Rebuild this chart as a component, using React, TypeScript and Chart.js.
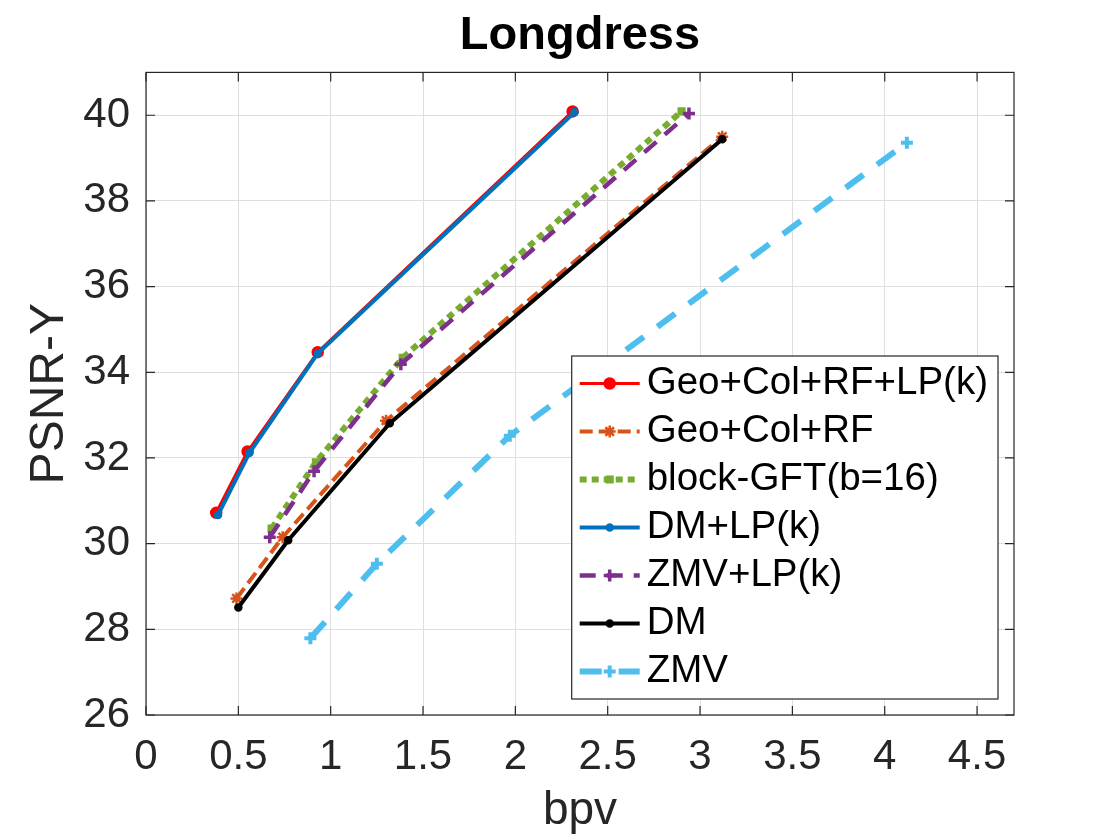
import React, { useEffect, useRef } from 'react';
import { Chart, registerables } from 'chart.js';
import { drawPoint } from 'chart.js/helpers';

Chart.register(...registerables);

const FONT = '"Liberation Sans", Arial, Helvetica, sans-serif';

// series values (bpv, PSNR-Y)
const seriesNames = ['Geo+Col+RF+LP(k)', 'Geo+Col+RF', 'block-GFT(b=16)', 'DM+LP(k)', 'ZMV+LP(k)', 'DM', 'ZMV'];

const geoColRfLpX = [0.38, 0.55, 0.93, 2.31];
const geoColRfLpY = [30.72, 32.15, 34.47, 40.09];
const geoColRfX = [0.49, 0.74, 1.30, 3.12];
const geoColRfY = [28.72, 30.15, 32.87, 39.50];
const blockGftX = [0.68, 0.92, 1.39, 2.90];
const blockGftY = [30.35, 31.90, 34.34, 40.09];
const dmLpX = [0.39, 0.56, 0.93, 2.32];
const dmLpY = [30.67, 32.12, 34.44, 40.07];
const zmvLpX = [0.67, 0.91, 1.38, 2.94];
const zmvLpY = [30.15, 31.69, 34.19, 40.04];
const dmX = [0.50, 0.77, 1.32, 3.12];
const dmY = [28.51, 30.08, 32.81, 39.44];
const zmvX = [0.89, 1.25, 1.97, 4.12];
const zmvY = [27.79, 29.53, 32.52, 39.36];

const xTicks = [0, 0.5, 1, 1.5, 2, 2.5, 3, 3.5, 4, 4.5];
const yTicks = [26, 28, 30, 32, 34, 36, 38, 40];

const seriesX = [geoColRfLpX, geoColRfX, blockGftX, dmLpX, zmvLpX, dmX, zmvX];
const seriesY = [geoColRfLpY, geoColRfY, blockGftY, dmLpY, zmvLpY, dmY, zmvY];

// MATLAB-like line styles
const styles = [
  { color: '#ff0000', width: 3, dash: [], point: 'circle', r: 5, pw: 2.5 },
  { color: '#d95319', width: 4, dash: [13, 6], point: 'star', r: 6, pw: 2.5 },
  { color: '#77ac30', width: 6, dash: [7, 5], point: 'rect', r: 4, pw: 2.5 },
  { color: '#0072bd', width: 4, dash: [], point: 'circle', r: 3, pw: 2.5 },
  { color: '#7e2f8e', width: 4.5, dash: [16, 11], point: 'cross', r: 6, pw: 3.5 },
  { color: '#000000', width: 4, dash: [], point: 'circle', r: 3, pw: 2.5 },
  { color: '#4dbeee', width: 6, dash: [22, 17], point: 'cross', r: 6, pw: 4 },
];

const framePlugin = {
  id: 'frame',
  afterDatasetsDraw(chart: any) {
    const { ctx, chartArea: a, scales } = chart;
    ctx.save();
    ctx.strokeStyle = '#262626';
    ctx.lineWidth = 1.2;
    ctx.strokeRect(a.left, a.top, a.right - a.left, a.bottom - a.top);
    const len = 9;
    ctx.beginPath();
    scales.x.ticks.forEach((t: any) => {
      const px = scales.x.getPixelForValue(t.value);
      ctx.moveTo(px, a.bottom); ctx.lineTo(px, a.bottom - len);
      ctx.moveTo(px, a.top); ctx.lineTo(px, a.top + len);
    });
    scales.y.ticks.forEach((t: any) => {
      const py = scales.y.getPixelForValue(t.value);
      ctx.moveTo(a.left, py); ctx.lineTo(a.left + len, py);
      ctx.moveTo(a.right, py); ctx.lineTo(a.right - len, py);
    });
    ctx.stroke();
    ctx.restore();
  },
};

const legendPlugin = {
  id: 'insetLegend',
  afterDraw(chart: any) {
    const { ctx, chartArea: a } = chart;
    const ds = chart.data.datasets;
    ctx.save();
    ctx.font = `38.5px ${FONT}`;
    const textW = Math.max(...ds.map((d: any) => ctx.measureText(d.label).width));
    const rowH = 48, sample = 60, padL = 8, gap = 7, padR = 10, padV = 3.5;
    const w = padL + sample + gap + textW + padR;
    const h = ds.length * rowH + 2 * padV;
    const left = a.right - 16 - w;
    const top = a.bottom - 16 - h;
    ctx.fillStyle = '#ffffff';
    ctx.fillRect(left, top, w, h);
    ctx.strokeStyle = '#262626';
    ctx.lineWidth = 1.2;
    ctx.strokeRect(left, top, w, h);
    ds.forEach((d: any, i: number) => {
      const cy = top + padV + rowH * (i + 0.5);
      const x0 = left + padL;
      const x1 = x0 + sample;
      ctx.save();
      ctx.strokeStyle = d.borderColor;
      ctx.lineWidth = d.borderWidth;
      ctx.setLineDash(d.borderDash || []);
      ctx.beginPath();
      ctx.moveTo(x0, cy);
      ctx.lineTo(x1, cy);
      ctx.stroke();
      ctx.setLineDash([]);
      ctx.fillStyle = d.pointBackgroundColor;
      ctx.strokeStyle = d.pointBorderColor;
      ctx.lineWidth = d.pointBorderWidth;
      drawPoint(ctx, { pointStyle: d.pointStyle, radius: d.pointRadius, rotation: 0, borderWidth: d.pointBorderWidth }, (x0 + x1) / 2, cy);
      ctx.restore();
      ctx.fillStyle = '#000000';
      ctx.textAlign = 'left';
      ctx.textBaseline = 'middle';
      ctx.fillText(d.label, x1 + gap, cy);
    });
    ctx.restore();
  },
};

function PsnrChart() {
  const canvasRef = useRef<HTMLCanvasElement | null>(null);
  useEffect(() => {
    if (!canvasRef.current) return;
    const datasets = seriesNames.map((name, i) => {
      const s = styles[i];
      return {
        label: name,
        data: seriesX[i].map((x, j) => ({ x, y: seriesY[i][j] })),
        showLine: true,
        borderColor: s.color,
        backgroundColor: s.color,
        borderWidth: s.width,
        borderDash: s.dash,
        borderJoinStyle: 'round' as const,
        pointStyle: s.point,
        pointRadius: s.r,
        pointBackgroundColor: s.color,
        pointBorderColor: s.color,
        pointBorderWidth: s.pw,
        order: seriesNames.length - i,
      };
    });
    const c = new Chart(canvasRef.current, {
      type: 'scatter',
      data: { datasets },
      options: {
        responsive: false,
        animation: false,
        events: [],
        layout: { padding: { left: 0, right: 106, top: 0, bottom: 0 } },
        plugins: {
          legend: { display: false },
          tooltip: { enabled: false },
          title: {
            display: true,
            text: 'Longdress',
            fullSize: false,
            color: '#000000',
            font: { family: FONT, size: 47, weight: 'bold' },
            padding: { top: 8, bottom: 8 },
          },
        },
        scales: {
          x: {
            type: 'linear',
            min: 0,
            max: 4.7,
            afterBuildTicks: (s: any) => { s.ticks = xTicks.map((v) => ({ value: v })); },
            afterFit: (s: any) => { s.height = 125; },
            grid: { color: '#dedede', lineWidth: 1, drawTicks: false },
            border: { display: false },
            ticks: {
              autoSkip: false,
              maxRotation: 0,
              padding: 17,
              color: '#262626',
              font: { family: FONT, size: 42 },
              callback: (v: any) => String(v),
            },
            title: {
              display: true,
              text: 'bpv',
              color: '#262626',
              font: { family: FONT, size: 46 },
              padding: { top: 0, bottom: 1 },
            },
          },
          y: {
            type: 'linear',
            min: 26,
            max: 41,
            afterBuildTicks: (s: any) => { s.ticks = yTicks.map((v) => ({ value: v })); },
            afterFit: (s: any) => { s.width = 146; },
            grid: { color: '#dedede', lineWidth: 1, drawTicks: false },
            border: { display: false },
            ticks: {
              autoSkip: false,
              padding: 16,
              color: '#262626',
              font: { family: FONT, size: 42 },
              callback: (v: any) => String(v),
            },
            title: {
              display: true,
              text: 'PSNR-Y',
              color: '#262626',
              font: { family: FONT, size: 48 },
              padding: { top: 21, bottom: 0 },
            },
          },
        },
      },
      plugins: [framePlugin, legendPlugin],
    } as any);
    return () => { c.destroy(); };
  }, []);
  return <canvas ref={canvasRef} width={1120} height={840} style={{ width: 1120, height: 840, display: 'block' }} />;
}

export default function App() {
  return (
    <div style={{ position: 'fixed', left: 0, top: 0, width: 1120, height: 840, background: '#ffffff' }}>
      <PsnrChart />
    </div>
  );
}
